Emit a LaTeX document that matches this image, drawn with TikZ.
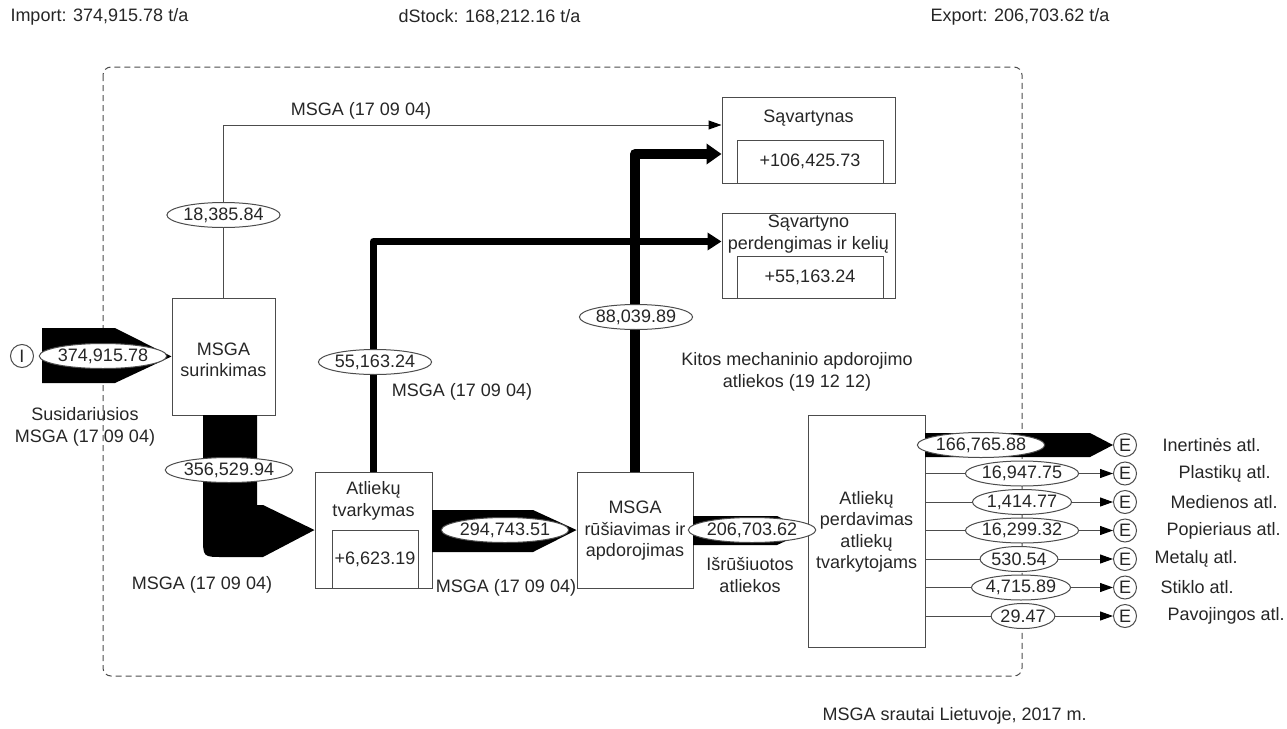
\documentclass[tikz,border=0pt]{standalone}
\usepackage{fontspec}
\setmainfont{Liberation Sans}
\usetikzlibrary{shapes.geometric,arrows.meta,calc}
\tikzset{every picture/.style={line width=1pt}}

\begin{document}
\begin{tikzpicture}[x=1pt,y=1pt,yscale=-1,
    font=\fontsize{18}{21.5}\selectfont, text=black!85,
    box/.style={draw=black!70, inner sep=0pt},
    txt/.style={align=center, inner sep=0pt},
    lbl/.style={anchor=west, inner sep=0pt},
    val/.style={ellipse, draw=black!70, fill=white, inner sep=0pt, minimum height=25pt},
    endpt/.style={circle, draw=black!70, inner sep=0pt, minimum size=23pt},
    thinflow/.style={draw=black!70, -{Triangle[length=13pt,width=9pt,color=black]}}]
    \useasboundingbox (0,0) rectangle (1287,728);

    % header and footer
    \node[lbl] (imp) at (10,17) {Import: 374,915.78 t/a};
    \node[lbl] (dst) at (398,17) {dStock: 168,212.16 t/a};
    \node[lbl] (exp) at (930,17) {Export: 206,703.62 t/a};
    \node[lbl] (ttl) at (822,716) {MSGA srautai Lietuvoje, 2017 m.};

    % system border
    \draw[black!70, dash pattern=on 6pt off 4pt, rounded corners=8] (103,67) rectangle (1022,676);

    % processes
    \node[box, minimum width=103, minimum height=117] (surink) at (223.5,356.5) {};
    \node[txt] (surinkt) at (223.5,360) {MSGA\\surinkimas};
    \node[box, minimum width=173, minimum height=86] (sav) at (808.5,140) {};
    \node[txt] (savt) at (808.5,118) {Sąvartynas};
    \node[box, minimum width=146, minimum height=43] (savin) at (810,161.5) {+106,425.73};
    \node[box, minimum width=173, minimum height=85] (perd) at (808.5,255.5) {};
    \node[txt] (perdt) at (808.5,234) {Sąvartyno\\perdengimas ir kelių};
    \node[box, minimum width=146, minimum height=42] (perdin) at (810,277) {+55,163.24};
    \node[box, minimum width=117, minimum height=116] (tvark) at (373.5,530) {};
    \node[txt] (tvarkt) at (373.5,501) {Atliekų\\tvarkymas};
    \node[box, minimum width=86, minimum height=58] (tvarkin) at (375,559) {+6,623.19};
    \node[box, minimum width=116, minimum height=116] (rus) at (635,530) {};
    \node[txt] (rust) at (635,531) {MSGA\\rūšiavimas ir\\apdorojimas};
    \node[box, minimum width=117, minimum height=232] (perdav) at (866.5,531) {};
    \node[txt] (perdavt) at (866.5,532) {Atliekų\\perdavimas\\atliekų\\tvarkytojams};

    % import and export points
    \node[endpt] (inp) at (22,356) {I};
    \foreach \i/\y in {1/445,2/473.5,3/502,4/530.5,5/559,6/587.5,7/616}
        \node[endpt] (e\i) at (1125,\y) {E};

    % flows
    \fill (surink.west) -- (115,328) -- (42,328) -- (42,383) -- (115,383) -- cycle;
    \fill (tvark.west) -- (263,505) -- (257,505) -- (257,415) -- (203,415) -- (203,537)
        .. controls (203,557) .. (223,557) -- (263,557) -- cycle;
    \fill (rus.west) -- (533,510) -- (432,510) -- (432,552) -- (533,552) -- cycle;
    \fill (perdav.west) -- (777,516) -- (693,516) -- (693,545) -- (777,545) -- cycle;
    \fill (e1.west) -- (1090,433) -- (925,433) -- (925,457) -- (1090,457) -- cycle;
    \draw[thinflow] (surink.north) |- ($(sav.west)+(0,-15)$);
    \draw[line width=7pt, line join=round, -{Triangle[length=14pt,width=17pt]}] (tvark.north) |- ($(perd.west)+(0,-14)$);
    \draw[line width=10pt, line join=round, -{Triangle[length=15pt,width=20pt]}] (rus.north) |- ($(sav.west)+(0,14)$);
    \foreach \i in {2,...,7}
        \draw[thinflow] (perdav.east |- e\i) -- (e\i);

    % values
    \node[val] (v374) at (103,356) {374,915.78};
    \node[val] (v18) at (223.5,215) {18,385.84};
    \node[val] (v356) at (229,470) {356,529.94};
    \node[val] (v55) at (375,362) {55,163.24};
    \node[val] (v88) at (636,317) {88,039.89};
    \node[val] (v294) at (505,530) {294,743.51};
    \node[val] (v206) at (752,530) {206,703.62};
    \node[val] (v166) at (981,445) {166,765.88};
    \node[val] (v169) at (1022,473.5) {16,947.75};
    \node[val] (v14) at (1022,502) {1,414.77};
    \node[val] (v162) at (1022,530.5) {16,299.32};
    \node[val] (v5) at (1019,559) {530.54};
    \node[val] (v47) at (1021,587.5) {4,715.89};
    \node[val] (v29) at (1023,616) {29.47};

    % flow labels
    \node[txt] (lsus) at (85,427) {Susidariusios\\MSGA (17 09 04)};
    \node[txt] (ltop) at (361,111) {MSGA (17 09 04)};
    \node[txt] (l55) at (462,392) {MSGA (17 09 04)};
    \node[txt] (lsur) at (202,585) {MSGA (17 09 04)};
    \node[txt] (ltvk) at (506,588) {MSGA (17 09 04)};
    \node[txt] (lkit) at (797,372) {Kitos mechaninio apdorojimo\\atliekos (19 12 12)};
    \node[txt] (lisr) at (750,575) {Išrūšiuotos\\atliekos};

    % export names
    \node[lbl] (n1) at (1162,445) {Inertinės atl.};
    \node[lbl] (n2) at (1178,473.5) {Plastikų atl.};
    \node[lbl] (n3) at (1170,502) {Medienos atl.};
    \node[lbl] (n4) at (1166,530.5) {Popieriaus atl.};
    \node[lbl] (n5) at (1154,559) {Metalų atl.};
    \node[lbl] (n6) at (1160,587.5) {Stiklo atl.};
    \node[lbl] (n7) at (1167,616) {Pavojingos atl.};
\end{tikzpicture}
\end{document}
